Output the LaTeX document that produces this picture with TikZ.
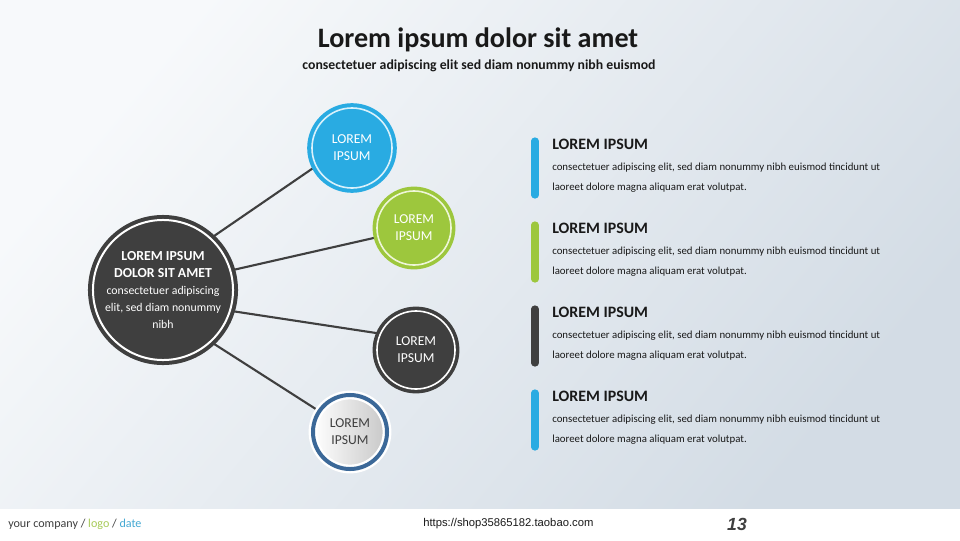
\documentclass[tikz,border=0pt]{standalone}
\usepackage{fontspec}
\setmainfont{Carlito}
\newfontfamily\urlfont{Liberation Sans}
\usetikzlibrary{backgrounds}
\definecolor{bgtop}{HTML}{F7F9FB}
\definecolor{bgbottom}{HTML}{D3DCE5}
\definecolor{darkgrey}{HTML}{3F3F3F}
\definecolor{skyblue}{HTML}{29ABE2}
\definecolor{leafgreen}{HTML}{9DC73D}
\definecolor{steelblue}{HTML}{3B6898}
\definecolor{ringblue}{HTML}{D9F1FB}
\definecolor{ringgreen}{HTML}{EEF6D8}
\definecolor{logogreen}{HTML}{A8CB5A}
\definecolor{dateblue}{HTML}{45A9D3}
\colorlet{textdark}{black!90}

\tikzset{
    bubble/.style={circle, inner sep=0pt, text=white, align=center,
        font=\fontsize{9.7}{12}\selectfont},
    link/.style={darkgrey, line width=1.5pt},
    bar/.style={line width=0.18cm, line cap=round},
    heading/.style={anchor=west, inner sep=0pt, text=textdark, font=\fontsize{11.3}{13}\selectfont\bfseries},
    bodytext/.style={anchor=west, inner sep=0pt, text=textdark, align=left, font=\fontsize{7.7}{14.2}\selectfont}
}

\begin{document}
\begin{tikzpicture}[x=0.025cm, y=-0.025cm]
        \useasboundingbox (0,0) rectangle (960,540);
        % title
        \node[text=textdark, font=\fontsize{20}{24}\selectfont\bfseries] (title) at (478,40) {Lorem ipsum dolor sit amet};
        \node[text=textdark, font=\fontsize{9.8}{11}\selectfont\bfseries] (subtitle) at (479,66) {consectetuer adipiscing elit sed diam nonummy nibh euismod};
        % circles
        \node[bubble, fill=darkgrey, draw=darkgrey, line width=0.1cm, double=white, double distance=0.05cm, minimum size=3.5cm] (hub) at (163,290)
        {\fontsize{9.8}{11.3}\selectfont\bfseries LOREM IPSUM\\
         \fontsize{9.8}{11.3}\selectfont\bfseries DOLOR SIT AMET\\
         \fontsize{8.4}{9.9}\selectfont consectetuer adipiscing\\
         \fontsize{8.4}{9.9}\selectfont elit, sed diam nonummy\\
         \fontsize{8.4}{9.9}\selectfont nibh};
        \node[bubble, fill=skyblue, draw=skyblue, line width=0.1cm, double=ringblue, double distance=0.04cm, minimum size=2cm] (first) at (352,148) {LOREM\\IPSUM};
        \node[bubble, fill=leafgreen, draw=leafgreen, line width=0.09cm, double=ringgreen, double distance=0.04cm, minimum size=1.85cm] (second) at (414,228) {LOREM\\IPSUM};
        \node[bubble, fill=darkgrey, draw=darkgrey, line width=0.09cm, double=white, double distance=0.04cm, minimum size=1.95cm] (third) at (416,350) {LOREM\\IPSUM};
        \node[bubble, text=darkgrey, left color=white, right color=black!22, draw=white, line width=0.06cm, double=steelblue, double distance=0.1cm, minimum size=1.85cm] (fourth) at (350,432) {LOREM\\IPSUM};
        % text blocks
        \foreach \i/\top/\col in {1/137/skyblue, 2/221/leafgreen, 3/305/darkgrey, 4/389/skyblue}
        {
            \draw[bar, \col] (535,\top+4) -- (535,\top+58);
            \node[heading] (head\i) at (552,\top+7) {LOREM IPSUM};
            \node[bodytext] (body\i) at (552,\top+41) {consectetuer adipiscing elit, sed diam nonummy nibh euismod tincidunt ut\\laoreet dolore magna aliquam erat volutpat.};
        }
        % footer
        \node[anchor=west, inner sep=0pt, font=\fontsize{8.6}{10}\selectfont] (company) at (8,524)
        {\textcolor{darkgrey}{your company} \textcolor{darkgrey}{/} \textcolor{logogreen}{logo} \textcolor{darkgrey}{/} \textcolor{dateblue}{date}};
        \node[anchor=west, inner sep=0pt, text=textdark, font=\urlfont\fontsize{8}{10}\selectfont] (url) at (423,524) {https://shop35865182.taobao.com};
        \node[text=darkgrey, font=\urlfont\fontsize{12.5}{14}\selectfont\bfseries\itshape] (pagenum) at (737,524) {13};
        % ~~~~~~~~~~~~~~~~~
        \begin{scope}[on background layer]
            \fill[white] (0,0) rectangle (960,540);
            \shade[top color=bgtop, bottom color=bgbottom, shading angle=50] (0,0) rectangle (960,508);
            \draw[link] (hub.47) -- (first.207);
            \draw[link] (hub.16) -- (second.194);
            \draw[link] (hub.-17) -- (third.156);
            \draw[link] (hub.-47) -- (fourth.146);
        \end{scope}
    \end{tikzpicture}
\end{document}
